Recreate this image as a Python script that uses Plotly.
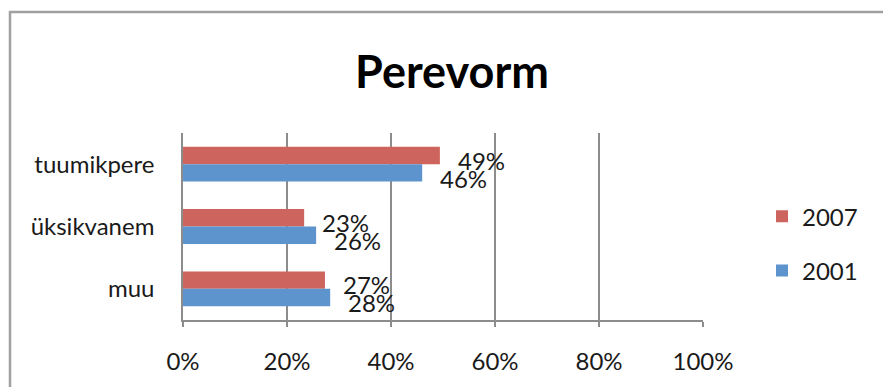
import plotly.graph_objects as go

categories = ["tuumikpere", "üksikvanem", "muu"]
values_2007 = [0.494, 0.233, 0.273]
values_2001 = [0.460, 0.256, 0.283]
series_names = ["2007", "2001"]
tick_vals = [0, 0.2, 0.4, 0.6, 0.8, 1.0]
tick_text = ["0%", "20%", "40%", "60%", "80%", "100%"]
title_text = "Perevorm"

RED = "#CD645D"
BLUE = "#5D94CD"
GRID = "#8c8c8c"
FONT = "Lato, 'Open Sans', sans-serif"
FS = 24

W, H = 883, 387
ML, MR, MT, MB = 183, 180, 133, 64
PW = W - ML - MR
PH = H - MT - MB

fig = go.Figure()
fig.add_trace(go.Bar(y=categories, x=values_2007, name=series_names[0], orientation="h",
                     marker=dict(color=RED, line=dict(width=0)), legend="legend"))
fig.add_trace(go.Bar(y=categories, x=values_2001, name=series_names[1], orientation="h",
                     marker=dict(color=BLUE, line=dict(width=0)), legend="legend2"))

# data labels
annotations = []
for vals, ysh in ((values_2007, 4), (values_2001, -14)):
    for c, v in zip(categories, vals):
        annotations.append(dict(x=v, y=c, xref="x", yref="y", text=f"{round(v*100)}%",
                                showarrow=False, xanchor="left", yanchor="middle",
                                xshift=16, yshift=ysh,
                                font=dict(family=FONT, size=FS, color="#1a1a1a")))

def px_x(p):
    return (p - ML) / PW

def px_y(p):
    return (H - MB - p) / PH

fig.update_layout(
    width=W, height=H,
    margin=dict(l=ML, r=MR, t=MT, b=MB),
    paper_bgcolor="white", plot_bgcolor="white",
    barmode="group", bargap=0.44, bargroupgap=0,
    title=dict(text=f"<b>{title_text}</b>", x=452 / W, xref="container", xanchor="center",
               y=1 - 72 / H, yref="container", yanchor="middle",
               font=dict(family=FONT, size=45, color="black")),
    font=dict(family=FONT, size=FS, color="#1a1a1a"),
    xaxis=dict(range=[0, 1], tickvals=tick_vals, ticktext=tick_text,
               showgrid=True, gridcolor=GRID, gridwidth=1.5,
               showline=True, linecolor=GRID, linewidth=1.5,
               ticks="outside", ticklen=5, tickcolor=GRID, tickwidth=1.5,
               ticklabelstandoff=14, zeroline=False,
               tickfont=dict(family=FONT, size=FS, color="#1a1a1a")),
    yaxis=dict(autorange="reversed", showgrid=False, showline=True, linecolor=GRID, linewidth=1.5,
               ticks="", ticklabelstandoff=22,
               tickfont=dict(family=FONT, size=FS, color="#1a1a1a")),
    legend=dict(x=px_x(762), y=px_y(218), xanchor="left", yanchor="middle",
                font=dict(family=FONT, size=FS, color="#1a1a1a"), bgcolor="rgba(0,0,0,0)"),
    legend2=dict(x=px_x(762), y=px_y(273), xanchor="left", yanchor="middle",
                 font=dict(family=FONT, size=FS, color="#1a1a1a"), bgcolor="rgba(0,0,0,0)"),
    annotations=annotations,
    shapes=[dict(type="rect", xref="paper", yref="paper",
                 x0=px_x(10), x1=px_x(900), y0=px_y(400), y1=px_y(10),
                 line=dict(color="#a0a0a0", width=2.5), layer="below")],
    showlegend=True,
)

fig.write_html("out.html")
